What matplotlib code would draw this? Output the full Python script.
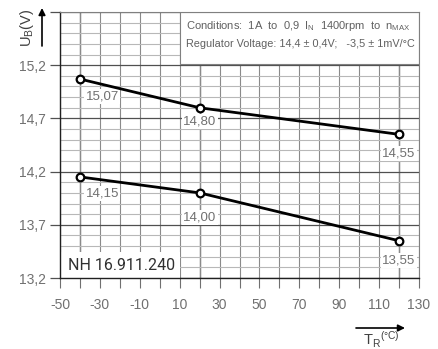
import matplotlib
matplotlib.use("Agg")
import matplotlib.pyplot as plt
from matplotlib.ticker import FixedLocator, MultipleLocator
from matplotlib.patches import Rectangle

plt.rcParams['font.family'] = ['Liberation Sans Narrow', 'Liberation Sans', 'DejaVu Sans']
plt.rcParams['mathtext.default'] = 'regular'

# ---- data ----
temps = [-40, 20, 120]
upper = [15.07, 14.80, 14.55]
lower = [14.15, 14.00, 13.55]
upper_labels = ["15,07", "14,80", "14,55"]
lower_labels = ["14,15", "14,00", "13,55"]
xticks = [-50, -30, -10, 10, 30, 50, 70, 90, 110, 130]
yticks = [13.2, 13.7, 14.2, 14.7, 15.2, 15.7]
ytick_labels = ["13,2", "13,7", "14,2", "14,7", "15,2", ""]

W, H = 438, 349
fig = plt.figure(figsize=(W / 100, H / 100), dpi=100)
ax = fig.add_axes([60 / W, 1 - 278 / H, (419 - 60) / W, (278 - 12) / H])
ax.set_xlim(-50, 130)
ax.set_ylim(13.2, 15.7)

# grid
ax.xaxis.set_major_locator(FixedLocator(xticks))
ax.xaxis.set_minor_locator(MultipleLocator(10))
ax.yaxis.set_major_locator(FixedLocator(yticks))
ax.yaxis.set_minor_locator(MultipleLocator(0.1))
ax.set_xticklabels([str(t) for t in xticks])
ax.set_yticklabels(ytick_labels)

ax.grid(which='both', axis='x', color='#8a8a8a', lw=0.8, zorder=0)
ax.grid(which='minor', axis='y', color='#b8b8b8', lw=0.8, zorder=0)
ax.grid(which='major', axis='y', color='#505050', lw=0.9, zorder=0)
ax.set_axisbelow(True)
for t in temps:
    ax.axvline(t, color='#303030', lw=0.9, zorder=0.5)

ax.tick_params(axis='x', which='both', direction='out', length=7.2, width=0.8,
               color='#707070', labelcolor='#707070', labelsize=10, pad=7)
ax.tick_params(axis='y', which='major', direction='out', length=7.2, width=0.9,
               color='#505050', labelcolor='#707070', labelsize=10, pad=3)
ax.tick_params(axis='y', which='minor', length=0)

for s in ['left', 'bottom']:
    ax.spines[s].set_color('#202020')
    ax.spines[s].set_linewidth(1.0)
for s in ['top', 'right']:
    ax.spines[s].set_color('#808080')
    ax.spines[s].set_linewidth(0.8)

# boxes
ax.add_patch(Rectangle((10, 15.21), 120, 0.49, facecolor='white',
                       edgecolor='#808080', lw=0.8, zorder=1))
ax.text(13, 15.565, "Conditions:  1A  to  0,9  I$_{N}$  1400rpm  to  n$_{MAX}$",
        fontsize=8, color='#606060', va='center', ha='left', zorder=2)
ax.text(13, 15.395, "Regulator Voltage: 14,4 \u00b1 0,4V;   -3,5 \u00b1 1mV/\u00b0C",
        fontsize=7.8, color='#606060', va='center', ha='left', zorder=2)

ax.add_patch(Rectangle((-50, 13.2), 60, 0.245, facecolor='white',
                       edgecolor='none', zorder=1))
ax.text(-46, 13.32, "NH 16.911.240", fontsize=11.5, color='#303030',
        family=['Roboto', 'DejaVu Sans'], va='center', ha='left', zorder=2)

# data lines
for ys in [upper, lower]:
    ax.plot(temps, ys, color='black', lw=2, marker='o', ms=5.5,
            mfc='white', mec='black', mew=1.6, zorder=3, clip_on=False)

offsets_u = [(16, -12.5), (0, -10), (0, -14)]
offsets_l = [(16, -12), (0, -18), (0, -14)]
for ys, labs, offs in [(upper, upper_labels, offsets_u), (lower, lower_labels, offsets_l)]:
    for x, y, lab, off in zip(temps, ys, labs, offs):
        ax.annotate(lab, (x, y), xytext=off, textcoords='offset points',
                    ha='center', va='center', fontsize=9.5, color='#707070',
                    bbox=dict(facecolor='white', edgecolor='none', pad=1),
                    zorder=2)

# axis labels with arrows
fig.text(27 / W, 1 - 28 / H, "U$_B$(V)", rotation=90, fontsize=10.5,
         color='#404040', ha='center', va='center')
ax.annotate("", xy=(42 / W, 1 - 8 / H), xytext=(42 / W, 1 - 46 / H),
            xycoords='figure fraction', textcoords='figure fraction',
            arrowprops=dict(arrowstyle='-|>', color='black', lw=1.2,
                            mutation_scale=10, shrinkA=0, shrinkB=0))
fig.text(381 / W, 1 - 340 / H, "T$_R$$^{(\u00b0C)}$", fontsize=10.5,
         color='#404040', ha='center', va='center')
ax.annotate("", xy=(405 / W, 1 - 328 / H), xytext=(356 / W, 1 - 328 / H),
            xycoords='figure fraction', textcoords='figure fraction',
            arrowprops=dict(arrowstyle='-|>', color='black', lw=1.2,
                            mutation_scale=10, shrinkA=0, shrinkB=0))

fig.savefig("out.png", dpi=100)
